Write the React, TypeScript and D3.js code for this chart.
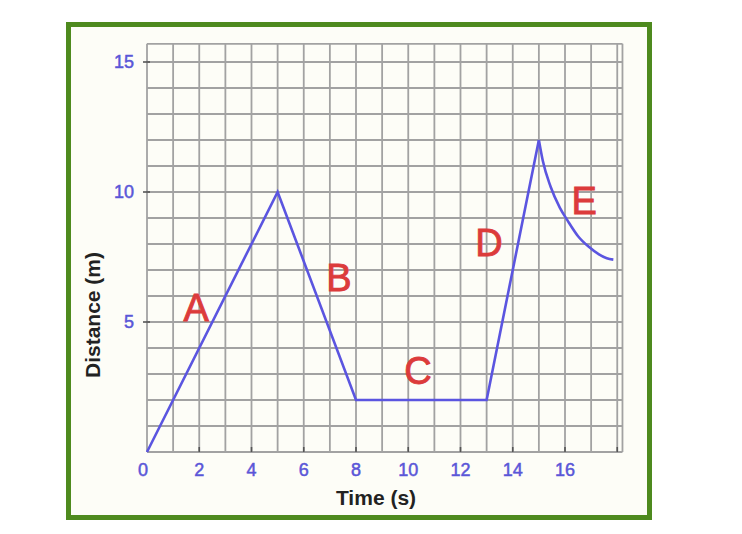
import React from "react";
import * as d3 from "d3";

// Motion record: distance (m) against time (s)
const straightPoints: [number, number][] = [
  [0, 0],
  [5, 10],
  [8, 2],
  [13, 2],
  [15, 12],
];

// Slowing-down stretch after the peak
const decayPoints: [number, number][] = [
  [15, 12],
  [15.15, 11.2],
  [15.45, 10.2],
  [15.8, 9.4],
  [16.1, 8.9],
  [16.5, 8.3],
  [16.9, 7.9],
  [17.3, 7.6],
  [17.6, 7.45],
  [17.85, 7.4],
];

const timeTickLabels = [0, 2, 4, 6, 8, 10, 12, 14, 16];
const timeTickMarks = [2, 4, 6, 8, 10, 12, 14, 16, 18];
const distanceTickLabels = [5, 10, 15];
const segmentNames = ["A", "B", "C", "D", "E"];
const segmentTimes = [1.88, 7.35, 10.37, 13.09, 16.73];
const segmentDistances = [5.54, 6.69, 3.12, 8.04, 9.65];

const W = 742;
const H = 534;
const FONT = "'Liberation Sans', Arial, Helvetica, sans-serif";

export default function App() {
  const x = d3.scaleLinear().domain([0, 18.2]).range([147, 147 + 18.2 * 26.125]);
  const y = d3.scaleLinear().domain([0, 15.7]).range([452, 452 - 15.7 * 26]);

  const gridX = d3.range(0, 19, 1);
  const gridY = d3.range(0, 16, 1);

  const straightLine = d3
    .line<[number, number]>()
    .x((d) => x(d[0]))
    .y((d) => y(d[1]))
    .curve(d3.curveLinear);
  const decayLine = d3
    .line<[number, number]>()
    .x((d) => x(d[0]))
    .y((d) => y(d[1]))
    .curve(d3.curveMonotoneX);

  const [x0, x1] = x.range();
  const [y0, y1] = y.range();

  return (
    <svg
      width={W}
      height={H}
      style={{ position: "absolute", left: 0, top: 0, background: "#ffffff" }}
      fontFamily={FONT}
    >
      <rect x={0} y={0} width={W} height={H} fill="#ffffff" />
      {/* framed panel */}
      <rect x={68.5} y={24.5} width={581} height={493} fill="#fdfdf7" stroke="#4e8a1e" strokeWidth={5} />

      {/* grid */}
      <g stroke="#a2a2a2" strokeWidth={1.8}>
        {gridX.map((t) => (
          <line key={"gx" + t} x1={x(t)} x2={x(t)} y1={y0} y2={y1} />
        ))}
        <line x1={x1} x2={x1} y1={y0} y2={y1} />
        {gridY.map((d) => (
          <line key={"gy" + d} x1={x0} x2={x1} y1={y(d)} y2={y(d)} />
        ))}
        <line x1={x0} x2={x1} y1={y1} y2={y1} />
      </g>

      {/* tick marks */}
      <g stroke="#555" strokeWidth={1.6}>
        {timeTickMarks.map((t) => (
          <line key={"tx" + t} x1={x(t)} x2={x(t)} y1={y0} y2={y0 - 5} />
        ))}
        {distanceTickLabels.map((d) => (
          <line key={"ty" + d} x1={x0 - 4} x2={x0 + 3} y1={y(d)} y2={y(d)} />
        ))}
      </g>

      {/* tick labels */}
      <g fill="#5a56d8" stroke="#5a56d8" strokeWidth={0.5} fontSize={18}>
        {timeTickLabels.map((t) => (
          <text key={"lx" + t} x={x(t) - (t === 0 ? 4 : 0)} y={470} textAnchor="middle" dominantBaseline="central">
            {t}
          </text>
        ))}
        {distanceTickLabels.map((d) => (
          <text key={"ly" + d} x={134} y={y(d)} textAnchor="end" dominantBaseline="central">
            {d}
          </text>
        ))}
      </g>

      {/* axis titles */}
      <text x={376} y={497} textAnchor="middle" dominantBaseline="central" fontSize={21} fontWeight="bold" fill="#222">
        Time (s)
      </text>
      <text
        transform="translate(92,315) rotate(-90)"
        textAnchor="middle"
        dominantBaseline="central"
        fontSize={21}
        fontWeight="bold"
        fill="#222"
      >
        Distance (m)
      </text>

      {/* data line */}
      <path d={straightLine(straightPoints) ?? ""} fill="none" stroke="#5b55e0" strokeWidth={2.6} strokeLinejoin="miter" />
      <path d={decayLine(decayPoints) ?? ""} fill="none" stroke="#5b55e0" strokeWidth={2.6} />

      {/* segment names */}
      <g fill="#dc3b3b" stroke="#dc3b3b" strokeWidth={0.9} fontSize={38}>
        {segmentNames.map((s, i) => (
          <text
            key={s}
            x={x(segmentTimes[i])}
            y={y(segmentDistances[i])}
            textAnchor="middle"
            dominantBaseline="central"
          >
            {s}
          </text>
        ))}
      </g>
    </svg>
  );
}
